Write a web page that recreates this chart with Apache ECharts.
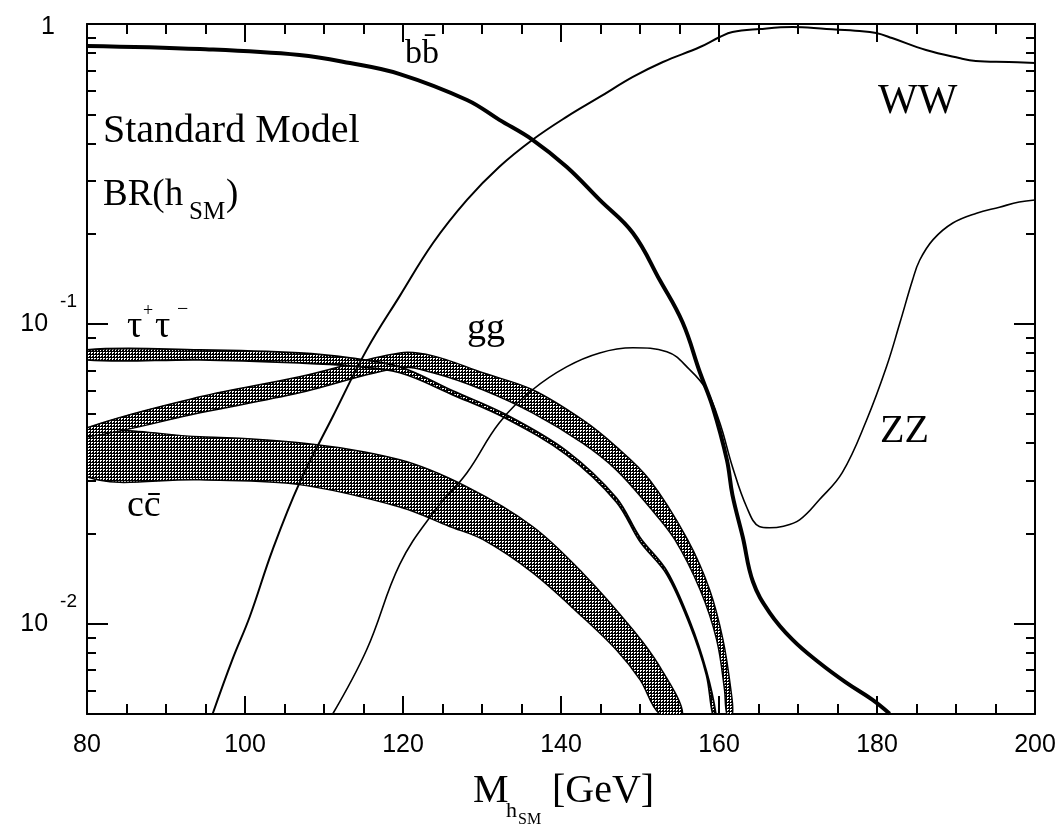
<!DOCTYPE html>
<html>
<head>
<meta charset="utf-8">
<title>BR(h_SM)</title>
<style>
    html, body { margin: 0; padding: 0; background: #fff; }
    #container { width: 1062px; height: 833px; }
</style>
</head>
<body>
<div id="container"></div>
<script src="https://cdn.jsdelivr.net/npm/echarts@6.0.0/dist/echarts.min.js"></script>
<script>
    // axis ticks
    var xTicks = [80, 100, 120, 140, 160, 180, 200];
    var yMajor = [0.01, 0.1, 1];
    var yExp = [-2, -1, 0];
    var yMinor = [0.006, 0.007, 0.008, 0.009,
        0.02, 0.03, 0.04, 0.05, 0.06, 0.07, 0.08, 0.09,
        0.2, 0.3, 0.4, 0.5, 0.6, 0.7, 0.8, 0.9];

    // b bbar
    var bbX = [80, 94.3, 106.9, 113.3, 119.6, 128.1, 132.2, 136.4, 140.7, 144.9, 149.1, 152.5, 155.4, 157.6,
        159.2, 161.0, 161.7, 163.0, 164.3, 166.4, 169.3, 172.7, 176.1, 179.4, 181.6];
    var bbY = [0.845, 0.825, 0.788, 0.741, 0.681, 0.558, 0.479, 0.411, 0.334, 0.259, 0.201, 0.140, 0.101, 0.0687,
        0.0529, 0.0352, 0.0269, 0.0195, 0.0138, 0.0109, 0.00885, 0.00741, 0.00636, 0.00558, 0.00501];

    // WW
    var wwX = [95.9, 98.4, 100.6, 103.5, 106.9, 111.1, 115.4, 119.6, 123.8, 128.1, 132.2, 136.4, 140.7, 144.9,
        149.1, 152.9, 157.6, 160.1, 161.7, 165.1, 169.3, 173.6, 177.8, 179.9, 181.9, 186.2, 190.4, 192.5, 196.7, 200];
    var wwY = [0.005, 0.00759, 0.01055, 0.01766, 0.0295, 0.049, 0.0819, 0.124, 0.186, 0.259, 0.334, 0.411, 0.490, 0.571,
        0.666, 0.747, 0.838, 0.905, 0.940, 0.962, 0.977, 0.962, 0.948, 0.933, 0.898, 0.819, 0.770, 0.753, 0.747, 0.741];

    // ZZ
    var zzX = [111.1, 115.4, 119.6, 123.8, 128.1, 132.2, 136.4, 140.7, 144.9, 149.1, 153.4, 156.3, 158.4, 160.1,
        161.7, 163.5, 165.1, 166.4, 168.0, 170.2, 172.7, 175.6, 178.7, 181.2, 182.9, 184.5, 185.4, 187.1, 189.6,
        192.6, 195.5, 198.0, 200];
    var zzY = [0.005, 0.00819, 0.0158, 0.0234, 0.0319, 0.0468, 0.0603, 0.0719, 0.0800, 0.0832, 0.0807, 0.0703, 0.0603, 0.0468,
        0.0334, 0.0245, 0.0211, 0.0209, 0.0211, 0.0222, 0.0259, 0.0319, 0.0479, 0.0719, 0.1008, 0.140, 0.163, 0.191, 0.217,
        0.234, 0.245, 0.255, 0.259];

    // tau+ tau- (narrow band)
    var tauHiX = [80, 94.3, 106.9, 113.3, 119.6, 126.3, 133.1, 140.7, 147.0, 150.0, 153.4, 156.3, 158.4, 159.6];
    var tauHi = [0.0819, 0.0819, 0.0800, 0.0770, 0.0719, 0.0598, 0.0497, 0.0377, 0.0263, 0.0194, 0.0150, 0.0102, 0.00697, 0.005];
    var tauLoX = [80, 94.3, 106.9, 113.3, 119.6, 126.3, 133.1, 140.7, 147.0, 150.0, 153.4, 156.3, 158.4, 159.2];
    var tauLo = [0.0759, 0.0759, 0.0741, 0.0724, 0.0687, 0.0580, 0.0483, 0.0366, 0.0255, 0.0188, 0.0146, 0.00992, 0.00676, 0.005];

    // gg band
    var ggHiX = [80, 94.3, 106.9, 119.6, 123.8, 130.1, 136.4, 142.7, 147.0, 151.2, 156.0, 158.8, 160.5, 161.5, 161.7];
    var ggHi = [0.0450, 0.0571, 0.0666, 0.0800, 0.0782, 0.0687, 0.0603, 0.0479, 0.0389, 0.0302, 0.0191, 0.0130, 0.00885, 0.00603, 0.005];
    var ggLoX = [80, 94.3, 106.9, 119.6, 123.8, 130.1, 136.4, 142.7, 147.0, 151.2, 154.4, 157.6, 159.7, 160.7, 161.0];
    var ggLo = [0.0420, 0.0505, 0.0589, 0.0714, 0.0687, 0.0603, 0.0505, 0.0401, 0.0326, 0.0245, 0.0191, 0.0130, 0.00885, 0.00603, 0.005];

    // c cbar band
    var ccHiX = [80, 94.3, 106.9, 119.6, 128.1, 136.4, 142.7, 149.1, 152.5, 155.4];
    var ccHi = [0.0427, 0.0420, 0.0401, 0.0352, 0.0286, 0.0211, 0.0148, 0.00955, 0.00719, 0.005];
    var ccLoX = [80, 94.3, 106.9, 119.6, 125.9, 130.1, 136.4, 142.7, 147.0, 150.0, 152.5];
    var ccLo = [0.0309, 0.0302, 0.0291, 0.0245, 0.0211, 0.0191, 0.0148, 0.01055, 0.00819, 0.00651, 0.005];

    // cross-hatch fill for the bands
    var hatch = document.createElement('canvas');
    hatch.width = 3;
    hatch.height = 3;
    var hc = hatch.getContext('2d');
    hc.fillStyle = '#000';
    hc.fillRect(0, 0, 3, 3);
    hc.fillStyle = '#fff';
    hc.fillRect(1, 1, 2, 1);
    hc.fillRect(1, 2, 1, 1);

    var serif = '"Liberation Serif", "DejaVu Serif", serif';
    var sans = '"Liberation Sans", "DejaVu Sans", sans-serif';
    var black = '#000';

    function zip(xs, ys) {
        return xs.map(function (x, i) { return [x, ys[i]]; });
    }

    function curve(name, xs, ys, width) {
        return {
            type: 'line',
            name: name,
            data: zip(xs, ys),
            symbol: 'none',
            smooth: 0.4,
            silent: true,
            z: 3,
            lineStyle: {color: black, width: width}
        };
    }

    function band(name, hiX, hi, loX, lo, edge) {
        return {
            type: 'custom',
            name: name,
            clip: true,
            silent: true,
            z: 2,
            data: [[hiX[0], hi[0]]],
            renderItem: function (params, api) {
                var pts = [];
                for (var i = 0; i < hi.length; i++) {
                    pts.push(api.coord([hiX[i], hi[i]]));
                }
                for (var j = lo.length - 1; j >= 0; j--) {
                    pts.push(api.coord([loX[j], lo[j]]));
                }
                return {
                    type: 'polygon',
                    shape: {points: pts, smooth: 0.35},
                    style: {fill: {image: hatch, repeat: 'repeat'}, stroke: black, lineWidth: edge}
                };
            }
        };
    }

    function yLabel(value) {
        var best = 0;
        for (var i = 1; i < yMajor.length; i++) {
            if (Math.abs(Math.log(value / yMajor[i])) < Math.abs(Math.log(value / yMajor[best]))) best = i;
        }
        if (yExp[best] === 0) return '{one|1}{pad|}';
        return '{b|10}{s|' + yExp[best] + '}';
    }

    var axisLine = {show: true, onZero: false, lineStyle: {color: black, width: 2}};
    var tickStyle = {color: black, width: 2};

    function xAxis(pos, showLabel) {
        return {
            type: 'value',
            position: pos,
            min: xTicks[0],
            max: xTicks[xTicks.length - 1],
            interval: 20,
            axisLine: axisLine,
            axisTick: {inside: true, length: 18, lineStyle: tickStyle},
            minorTick: {show: true, splitNumber: 4, length: 10, lineStyle: tickStyle},
            splitLine: {show: false},
            minorSplitLine: {show: false},
            axisLabel: {show: showLabel, fontSize: 25, fontFamily: sans, color: black, margin: 19}
        };
    }

    function yAxis(pos, ticks, len, showLine, label) {
        return {
            type: 'log',
            logBase: 10,
            position: pos,
            min: 0.005,
            max: 1,
            axisLine: showLine ? axisLine : {show: false},
            axisTick: {inside: true, length: len, customValues: ticks, lineStyle: tickStyle},
            splitLine: {show: false},
            axisLabel: label || {show: false}
        };
    }

    var dom = document.getElementById('container');
    var myChart = echarts.init(dom);

    function txt(x, y, text, size) {
        return {
            type: 'text', x: x, y: y,
            style: {
                text: text, fontSize: size, fontFamily: serif, fill: black,
                align: 'left', verticalAlign: 'middle', textAlign: 'left', textVerticalAlign: 'middle'
            }
        };
    }

    var option = {
        animation: false,
        backgroundColor: '#fff',
        grid: {left: 87, right: 27, top: 24, bottom: 119, containLabel: false, outerBoundsMode: 'none'},
        xAxis: [xAxis('bottom', true), xAxis('top', false)],
        yAxis: [
            yAxis('left', yMajor, 21, true, {
                customValues: yMajor,
                margin: 10,
                formatter: yLabel,
                rich: {
                    b: {fontSize: 25, fontFamily: sans, color: black},
                    one: {fontSize: 25, fontFamily: sans, color: black, padding: [6, 0, 0, 0]},
                    pad: {width: 22},
                    s: {fontSize: 19, fontFamily: sans, color: black, padding: [0, 0, 44, 12]}
                }
            }),
            yAxis('left', yMinor, 9, false),
            yAxis('right', yMajor, 21, true),
            yAxis('right', yMinor, 9, false)
        ],
        series: [
            band('cc', ccHiX, ccHi, ccLoX, ccLo, 1.5),
            band('gg', ggHiX, ggHi, ggLoX, ggLo, 1.5),
            band('tautau', tauHiX, tauHi, tauLoX, tauLo, 1.8),
            curve('ZZ', zzX, zzY, 1.6),
            curve('WW', wwX, wwY, 2),
            curve('bb', bbX, bbY, 4)
        ],
        graphic: [
            txt(405, 54, 'bb\u0304', 34),
            txt(878, 102, 'WW', 42),
            txt(103, 131, 'Standard Model', 40),
            txt(103, 195, 'BR(h', 37),
            txt(189, 212, 'SM', 25),
            txt(226, 195, ')', 37),
            txt(127, 327, '\u03c4', 38),
            txt(143, 311, '+', 18),
            txt(155, 327, '\u03c4', 38),
            txt(177, 310, '\u2212', 20),
            txt(467, 329, 'gg', 38),
            txt(127, 506, 'cc\u0304', 38),
            txt(880, 431, 'ZZ', 40),
            txt(473, 791, 'M', 40),
            txt(506, 811, 'h', 22),
            txt(518, 820, 'SM', 16),
            txt(552, 791, '[GeV]', 40)
        ]
    };

    myChart.setOption(option);
</script>
</body>
</html>
